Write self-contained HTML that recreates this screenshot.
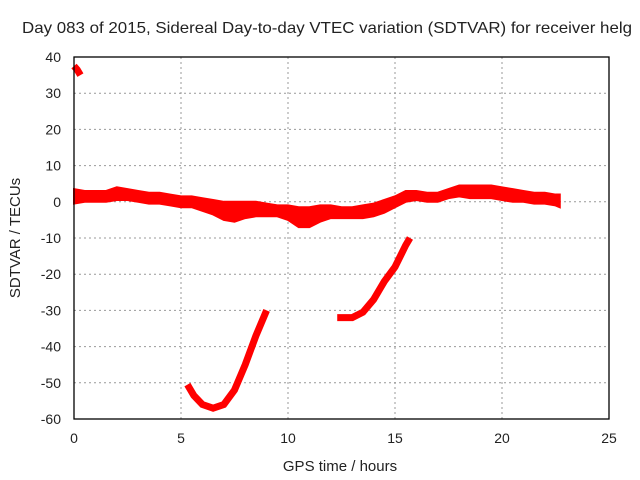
<!DOCTYPE html>
<html><head><meta charset="utf-8"><style>
body{margin:0;background:#fff}
svg{display:block;font-family:"Liberation Sans",sans-serif}
</style></head><body>
<svg id="chart" width="640" height="480" viewBox="0 0 640 480">
<rect width="640" height="480" fill="#fff"/>
<text x="22" y="33" font-size="16" textLength="610" lengthAdjust="spacingAndGlyphs" fill="#222">Day 083 of 2015, Sidereal Day-to-day VTEC variation (SDTVAR) for receiver helg</text>
<g id="grid"></g>
<g id="ticks"></g>
<g id="series"></g>
<rect x="74" y="57" width="535" height="362" fill="none" stroke="#000" stroke-width="1.3"/>
<text x="340" y="471" font-size="15" text-anchor="middle" fill="#222">GPS time / hours</text>
<text transform="translate(20,238) rotate(-90)" font-size="15" text-anchor="middle" fill="#222">SDTVAR / TECUs</text>
</svg>
<script>
const xTicks=[0,5,10,15,20,25];
const yTicks=[40,30,20,10,0,-10,-20,-30,-40,-50,-60];
const bandHours=[0,0.5,1,1.5,2,2.5,3,3.5,4,4.5,5,5.5,6,6.5,7,7.5,8,8.5,9,9.5,10,10.5,11,11.5,12,12.5,13,13.5,14,14.5,15,15.5,16,16.5,17,17.5,18,18.5,19,19.5,20,20.5,21,21.5,22,22.5,22.7];
const bandUpper=[3.5,3,3,3,4,3.5,3,2.5,2.5,2,1.5,1.5,1,0.5,0,0,0,0,-0.5,-1,-1,-1.5,-1.5,-1,-1,-1.5,-1.5,-1,-0.5,0.5,1.5,3,3,2.5,2.5,3.5,4.5,4.5,4.5,4.5,4,3.5,3,2.5,2.5,2,2];
const bandLower=[-0.5,0,0,0,0.5,0.5,0,-0.5,-0.5,-1,-1.5,-1.5,-2.5,-3.5,-5,-5.5,-4.5,-4,-4,-4,-5,-7,-7,-5.5,-4.5,-4.5,-4.5,-4.5,-4,-3,-1.5,0,0.5,0,0,1,1.5,1,1,1,0.5,0,0,-0.5,-0.5,-1,-1.5];
const topHours=[0,0.15,0.3];
const topVals=[37.5,36.5,35];
const dipHours=[5.3,5.6,6,6.5,7,7.5,8,8.5,9];
const dipVals=[-50.5,-53.5,-56,-57,-56,-52,-45,-37,-30];
const riseHours=[12.3,13,13.5,14,14.5,15,15.5,15.7];
const riseVals=[-32,-32,-30.5,-27,-22,-18,-12,-10];
const X=h=>74+h*(535/25);
const Y=v=>57+(40-v)*(362/100);
const NS='http://www.w3.org/2000/svg';
const grid=document.getElementById('grid'),ticks=document.getElementById('ticks'),ser=document.getElementById('series');
function mk(tag,attrs,parent){const e=document.createElementNS(NS,tag);for(const k in attrs)e.setAttribute(k,attrs[k]);parent.appendChild(e);return e;}
xTicks.forEach(t=>{
  if(t>0&&t<25){const l=mk('line',{x1:X(t),x2:X(t),y1:57,y2:419,stroke:'#999','stroke-dasharray':'2,3'},grid);
  
  }
  const tx=mk('text',{x:X(t),y:443,'font-size':14,'text-anchor':'middle',fill:'#222'},ticks);tx.textContent=t;
  
  
});
yTicks.forEach(t=>{
  if(t>-60&&t<40){const l=mk('line',{x1:74,x2:609,y1:Y(t),y2:Y(t),stroke:'#999','stroke-dasharray':'2,3'},grid);
  
  }
  const tx=mk('text',{x:61,y:Y(t)+5,'font-size':14,'text-anchor':'end',fill:'#222'},ticks);tx.textContent=t;
  
  
});
let pts=bandHours.map((h,i)=>X(h)+','+Y(bandUpper[i]));
for(let i=bandHours.length-1;i>=0;i--)pts.push(X(bandHours[i])+','+Y(bandLower[i]));
const band=mk('polygon',{points:pts.join(' '),fill:'#f00',stroke:'#f00','stroke-width':2},ser);


function line(hs,vs,name){
  const p=mk('polyline',{points:hs.map((h,i)=>X(h)+','+Y(vs[i])).join(' '),fill:'none',stroke:'#f00','stroke-width':7},ser);
  
  
}
line(topHours,topVals,'top-segment');
line(dipHours,dipVals,'dip-segment');
line(riseHours,riseVals,'rise-segment');
</script>
</body></html>
